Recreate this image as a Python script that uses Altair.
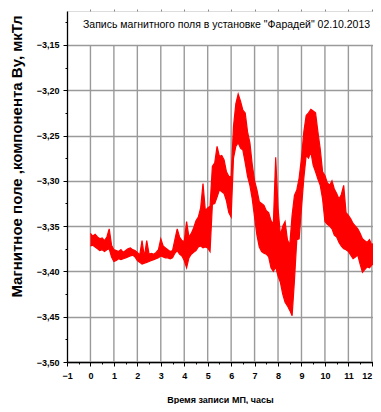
import altair as alt
import pandas as pd

# ---- data ----
hours = [0.0, 0.1, 0.2, 0.3, 0.4, 0.5, 0.6, 0.7, 0.8, 0.9,
         1.0, 1.1, 1.2, 1.3, 1.4, 1.5, 1.6, 1.7, 1.8, 1.9,
         2.0, 2.1, 2.2, 2.3, 2.4, 2.5, 2.6, 2.7, 2.8, 2.9,
         3.0, 3.1, 3.2, 3.3, 3.4, 3.5, 3.6, 3.7, 3.8, 3.9,
         4.0, 4.1, 4.2, 4.3, 4.4, 4.5, 4.6, 4.7, 4.8, 4.9,
         5.0, 5.1, 5.2, 5.3, 5.4, 5.5, 5.6, 5.7, 5.8, 5.9,
         6.0, 6.1, 6.2, 6.3, 6.4, 6.5, 6.6, 6.7, 6.8, 6.9,
         7.0, 7.1, 7.2, 7.3, 7.4, 7.5, 7.6, 7.7, 7.8, 7.9,
         8.0, 8.1, 8.2, 8.3, 8.4, 8.5, 8.6, 8.7, 8.8, 8.9,
         9.0, 9.1, 9.2, 9.3, 9.4, 9.5, 9.6, 9.7, 9.8, 9.9,
         10.0, 10.1, 10.2, 10.3, 10.4, 10.5, 10.6, 10.7, 10.8, 10.9,
         11.0, 11.1, 11.2, 11.3, 11.4, 11.5, 11.6, 11.7, 11.8, 11.9,
         12.0, 12.1, 12.2, 12.3]

upper = [-3.358, -3.361, -3.359, -3.362, -3.364, -3.363, -3.366, -3.362, -3.353, -3.371,
         -3.376, -3.377, -3.378, -3.376, -3.379, -3.377, -3.375, -3.374, -3.376, -3.377,
         -3.379, -3.382, -3.366, -3.384, -3.366, -3.381, -3.380, -3.381, -3.379, -3.376,
         -3.364, -3.372, -3.374, -3.376, -3.378, -3.377, -3.365, -3.353, -3.362, -3.366,
         -3.367, -3.345, -3.362, -3.358, -3.352, -3.344, -3.340, -3.330, -3.303, -3.333,
         -3.330, -3.328, -3.284, -3.280, -3.262, -3.273, -3.272, -3.277, -3.290, -3.295,
         -3.296, -3.240, -3.215, -3.204, -3.212, -3.222, -3.225, -3.246, -3.258, -3.282,
         -3.300, -3.310, -3.323, -3.325, -3.327, -3.333, -3.335, -3.344, -3.348, -3.274,
         -3.330, -3.360, -3.350, -3.345, -3.365, -3.371, -3.338, -3.316, -3.310, -3.297,
         -3.275, -3.246, -3.228, -3.225, -3.221, -3.223, -3.225, -3.246, -3.265, -3.290,
         -3.294, -3.302, -3.305, -3.300, -3.309, -3.314, -3.320, -3.315, -3.305, -3.335,
         -3.338, -3.342, -3.347, -3.350, -3.353, -3.358, -3.364, -3.366, -3.368, -3.365,
         -3.371, -3.368, -3.364, -3.362]

lower = [-3.372, -3.371, -3.373, -3.375, -3.377, -3.376, -3.378, -3.376, -3.375, -3.384,
         -3.389, -3.388, -3.386, -3.387, -3.386, -3.385, -3.384, -3.383, -3.382, -3.384,
         -3.388, -3.390, -3.392, -3.391, -3.390, -3.389, -3.388, -3.387, -3.386, -3.385,
         -3.383, -3.384, -3.385, -3.385, -3.386, -3.385, -3.380, -3.377, -3.381, -3.383,
         -3.388, -3.396, -3.385, -3.381, -3.379, -3.377, -3.373, -3.372, -3.374, -3.373,
         -3.374, -3.378, -3.326, -3.325, -3.318, -3.310, -3.312, -3.314, -3.322, -3.335,
         -3.340, -3.275, -3.262, -3.258, -3.264, -3.266, -3.280, -3.295, -3.305, -3.320,
         -3.340, -3.360, -3.373, -3.378, -3.380, -3.381, -3.384, -3.396, -3.400, -3.395,
         -3.405, -3.412, -3.425, -3.434, -3.438, -3.443, -3.449, -3.410, -3.365, -3.364,
         -3.330, -3.297, -3.272, -3.275, -3.268, -3.283, -3.290, -3.298, -3.305, -3.320,
         -3.345, -3.348, -3.350, -3.353, -3.360, -3.362, -3.368, -3.372, -3.375, -3.376,
         -3.378, -3.382, -3.386, -3.384, -3.382, -3.392, -3.401, -3.398, -3.395, -3.396,
         -3.393, -3.390, -3.386, -3.384]

x_ticks = [-1, 0, 1, 2, 3, 4, 5, 6, 7, 8, 9, 10, 11, 12]
x_minor = [-0.5, 0.5, 1.5, 2.5, 3.5, 4.5, 5.5, 6.5, 7.5, 8.5, 9.5, 10.5, 11.5]
grid_hours = [0, 1, 2, 3, 4, 5, 6, 7, 8, 9, 10, 11, 12]
y_ticks = [-3.50, -3.45, -3.40, -3.35, -3.30, -3.25, -3.20, -3.15]
y_minor = [-3.475, -3.425, -3.375, -3.325, -3.275, -3.225, -3.175, -3.125]
grid_bottom = [-3.50] * len(grid_hours)
grid_top = [-3.15] * len(grid_hours)

title_text = 'Запись магнитного поля в установке "Фарадей" 02.10.2013'
x_title = "Время записи МП, часы"
y_title = "Магнитное поле ,компонента Ву, мкТл"

FONT = "Liberation Sans, Arial, sans-serif"
RED = "#ff0000"
GRID = "#9a9a9a"

df = pd.DataFrame({"hr": hours, "hi": upper, "lo": lower})
grid_df = pd.DataFrame({"hr": grid_hours, "y0": grid_bottom, "y1": grid_top})

x_scale = alt.Scale(domain=[-1, 12.05], nice=False, zero=False)
y_scale = alt.Scale(domain=[-3.5, -3.1125], nice=False, zero=False)
label_expr = "replace(format(datum.value, '.2f'), '.', ',')"

grid_layer = alt.Chart(grid_df).mark_rule(color=GRID, strokeWidth=1.4).encode(
    x=alt.X("hr:Q", scale=x_scale,
            axis=alt.Axis(orient="top", values=grid_hours, labels=False, domain=False,
                          grid=False, ticks=True, tickSize=2, tickColor="#888888",
                          title=None)),
    y=alt.Y("y0:Q", scale=y_scale,
            axis=alt.Axis(orient="left", values=y_minor, labels=False, domain=False,
                          grid=False, ticks=True, tickSize=2,
                          tickColor="#000000", title=None)),
    y2="y1:Q",
)

band = alt.Chart(df).mark_area(color=RED, opacity=1, clip=True).encode(
    x=alt.X("hr:Q", scale=x_scale,
            axis=alt.Axis(orient="bottom", values=x_ticks, format="d", grid=False,
                          tickSize=4, tickColor="#000000", domainColor="#000000",
                          domainWidth=1.3, labelFont=FONT, labelFontSize=9,
                          labelFontWeight="bold", labelColor="#000000", labelPadding=5,
                          labelAlign=alt.condition("datum.value == 12",
                                                   alt.value("right"),
                                                   alt.value("center")),
                          title=x_title, titleFont=FONT, titleFontSize=9,
                          titleFontWeight="bold", titleColor="#000000", titlePadding=15)),
    y=alt.Y("hi:Q", scale=y_scale,
            axis=alt.Axis(orient="left", values=y_ticks, labelExpr=label_expr,
                          grid=True, gridColor=GRID, gridWidth=1.4,
                          tickSize=4, tickColor="#000000", domainColor="#000000",
                          domainWidth=1.3, labelFont=FONT, labelFontSize=9,
                          labelFontWeight="bold", labelColor="#000000", labelPadding=4,
                          title=y_title, titleFont=FONT, titleFontSize=15,
                          titleFontWeight="bold", titleColor="#000000",
                          titleX=-51, titleY=145, titleBaseline="middle",
                          titleAlign="center", titleAngle=270)),
    y2="lo:Q",
)

edge_hi = alt.Chart(df).mark_line(color=RED, strokeWidth=1.2, clip=True).encode(
    x=alt.X("hr:Q", scale=x_scale,
            axis=alt.Axis(orient="bottom", values=x_minor, labels=False, domain=False,
                          grid=False, ticks=True, tickSize=2, tickColor="#000000",
                          title=None)),
    y=alt.Y("hi:Q", scale=y_scale, axis=None),
)
edge_lo = alt.Chart(df).mark_line(color=RED, strokeWidth=1.2, clip=True).encode(
    x=alt.X("hr:Q", scale=x_scale, axis=None),
    y=alt.Y("lo:Q", scale=y_scale, axis=None),
)

chart = alt.layer(grid_layer, band, edge_hi, edge_lo).resolve_axis(
    x="independent", y="independent"
).properties(
    width=306,
    height=351,
    padding={"left": 59, "top": 3, "right": 0, "bottom": 42},
    autosize=alt.AutoSizeParams(type="none"),
    title=alt.TitleParams(title_text, anchor="start", orient="top", frame="group",
                          offset=-32, dx=16, font=FONT, fontSize=10.5,
                          fontWeight="normal", color="#000000", baseline="bottom"),
).configure_view(stroke=None).configure(background="white")

chart.save("out.html", embed_options={"renderer": "svg", "actions": False})
